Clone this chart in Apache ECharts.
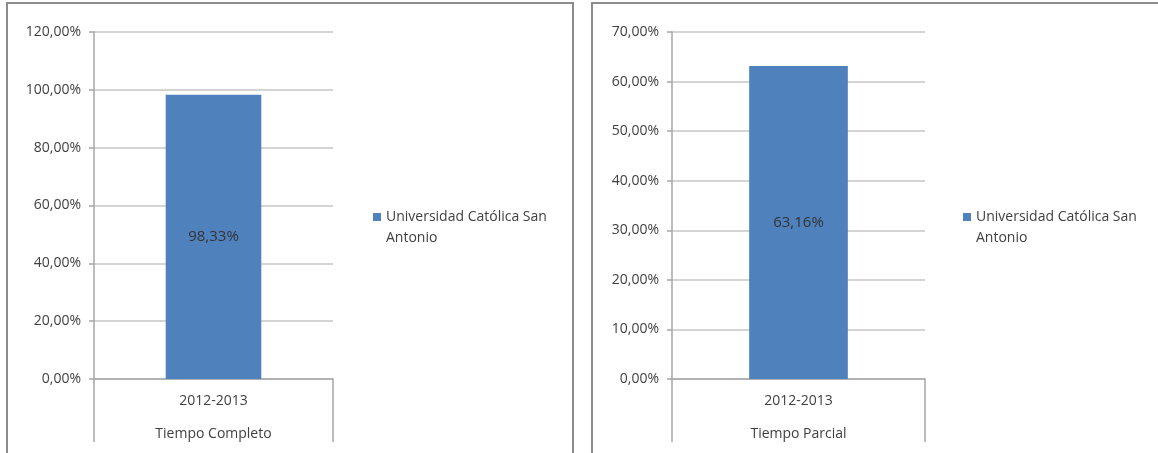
<!DOCTYPE html>
<html>
<head>
<meta charset="utf-8">
<script src="https://cdn.jsdelivr.net/npm/echarts@6/dist/echarts.min.js"></script>
<style>
html,body{margin:0;padding:0;background:#fff;}
#c{width:1158px;height:453px;}
</style>
</head>
<body>
<div id="c"></div>
<script>
var seriesName = 'Universidad Católica San Antonio';
var legendLine1 = 'Universidad Católica San';
var legendLine2 = 'Antonio';
var years = ['2012-2013'];
var groupLeft = ['Tiempo Completo'];
var groupRight = ['Tiempo Parcial'];
var valuesLeft = [98.33];
var valuesRight = [63.16];
var yMaxLeft = 120, yStepLeft = 20;
var yMaxRight = 70, yStepRight = 10;

var FONT = 'Open Sans';
var FS = 14;
var TXT = '#404040';
function pct(v){ return v.toFixed(2).replace('.', ',') + '%'; }

var chart = echarts.init(document.getElementById('c'));

function yAxis(idx, max, step){
  return {
    type:'value', gridIndex:idx, min:0, max:max, interval:step,
    axisLine:{show:true, lineStyle:{color:'#a6a6a6', width:1.5}},
    axisTick:{show:true, length:5, lineStyle:{color:'#a6a6a6', width:1.5}},
    splitLine:{lineStyle:{color:'#d4d4d4', width:2}},
    axisLabel:{formatter:function(v){return pct(v);}, color:TXT, fontFamily:FONT, fontSize:FS, margin:13}
  };
}
function xAxisYear(idx, data){
  return {
    type:'category', gridIndex:idx, data:data, boundaryGap:true,
    axisLine:{lineStyle:{color:'#a6a6a6', width:1.5}},
    axisTick:{show:true, length:63, inside:false, lineStyle:{color:'#a6a6a6', width:1.5}},
    axisLabel:{color:TXT, fontFamily:FONT, fontSize:FS, margin:15}
  };
}
function xAxisGroup(idx, data){
  return {
    type:'category', gridIndex:idx, data:data, position:'bottom',
    axisLine:{show:false}, axisTick:{show:false},
    axisLabel:{color:TXT, fontFamily:FONT, fontSize:FS, margin:48}
  };
}
function barSeries(xi, yi, data, width){
  return {
    name:seriesName, type:'bar', xAxisIndex:xi, yAxisIndex:yi, data:data,
    barWidth:width, itemStyle:{color:'#4f81bd'},
    label:{show:true, position:'inside', color:'#333', fontFamily:FONT, fontSize:15,
      formatter:function(p){return pct(p.value);}}
  };
}
function legend(left){
  return {
    left:left, top:205, orient:'vertical', selectedMode:false,
    icon:'rect', itemWidth:8, itemHeight:8, itemGap:5,
    data:[seriesName],
    formatter:function(){return legendLine1;},
    textStyle:{color:TXT, fontFamily:FONT, fontSize:FS}
  };
}
function legendSecond(x){
  return {type:'text', left:x, top:231,
    style:{text:legendLine2, fill:TXT, font:FS + 'px "' + FONT + '"'}};
}

chart.setOption({
  animation:false,
  graphic:[
    {type:'rect', shape:{x:7, y:3, width:566, height:470}, style:{fill:'none', stroke:'#8c8c8c', lineWidth:2}},
    {type:'rect', shape:{x:592, y:3, width:600, height:470}, style:{fill:'none', stroke:'#8c8c8c', lineWidth:2}},
    legendSecond(386),
    legendSecond(976)
  ],
  grid:[
    {left:94, top:32, width:239, height:347},
    {left:672, top:32, width:253, height:347}
  ],
  xAxis:[xAxisYear(0, years), xAxisGroup(0, groupLeft), xAxisYear(1, years), xAxisGroup(1, groupRight)],
  yAxis:[yAxis(0, yMaxLeft, yStepLeft), yAxis(1, yMaxRight, yStepRight)],
  legend:[legend(368), legend(958)],
  series:[barSeries(0, 0, valuesLeft, '40%'), barSeries(2, 1, valuesRight, '39%')]
});
</script>
</body>
</html>
